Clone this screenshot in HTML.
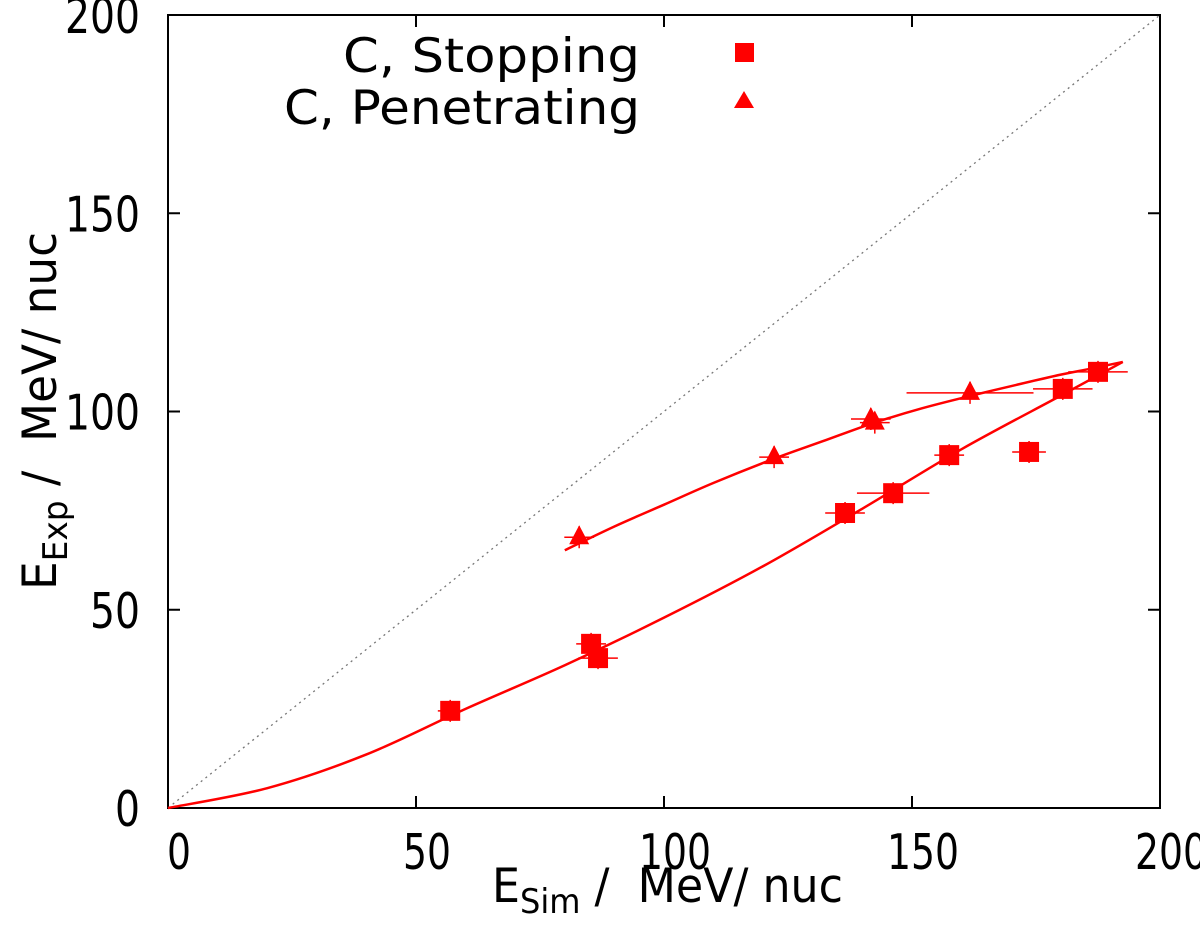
<!DOCTYPE html>
<html><head><meta charset="utf-8"><style>
html,body{margin:0;padding:0;background:#fff;}
svg{display:block;font-family:"DejaVu Sans","Liberation Sans",sans-serif;}
</style></head><body>
<svg id="chart" width="1200" height="945" viewBox="0 0 1200 945" xmlns="http://www.w3.org/2000/svg">
<g id="axes"></g>
<g id="marks"></g>
<g font-size="47" fill="#000">
<text x="343" y="72" textLength="297" lengthAdjust="spacingAndGlyphs">C, Stopping</text>
<rect x="735" y="43" width="19" height="19" fill="#f00"/>
<text x="284" y="124" textLength="356" lengthAdjust="spacingAndGlyphs">C, Penetrating</text>
<polygon points="744,91 754,108 734,108" fill="#f00"/>
</g>
<text x="492" y="902" font-size="47" textLength="351" lengthAdjust="spacingAndGlyphs">E<tspan font-size="34" dy="11">Sim</tspan><tspan dy="-11"> /&#160; MeV/&#160;nuc</tspan></text>
<text transform="translate(56,590) rotate(-90)" font-size="47" textLength="358" lengthAdjust="spacingAndGlyphs">E<tspan font-size="34" dy="11">Exp</tspan><tspan dy="-11"> /&#160; MeV/&#160;nuc</tspan></text>
</svg>
<script>
const xTicks=[0,50,100,150,200];
const yTicks=[0,50,100,150,200];
const stopX=[56.9,85.3,86.7,136.5,146.2,157.5,173.6,180.4,187.5];
const stopY=[24.5,41.4,37.8,74.4,79.4,89.0,89.8,105.7,110.0];
const stopXErr=[2.5,3,4,4,7.3,3,3.4,6,6];
const penX=[82.9,122.2,141.7,142.5,161.7];
const penY=[68.3,88.5,98.1,97.2,104.7];
const penXErr=[3,3,4,3,12.8];
const fitStopX=[0,20,40,60,80,100,120,140,160,180,192.5];
const fitStopY=[0,5,13.5,25,36,48,61,75.5,90.5,104,112.5];
const fitPenX=[80,90,100,110,122,132,142,152,162,172,180,186,192.5];
const fitPenY=[65,71,76.5,82,88,92.5,97,100.8,104,107,109.3,110.8,112.5];

const NS="http://www.w3.org/2000/svg";
const X0=168,X1=1160,Y0=808,Y1=15;
const sx=v=>X0+(v/200)*(X1-X0);
const sy=v=>Y0-(v/200)*(Y0-Y1);
function mk(tag,attrs,parent){const e=document.createElementNS(NS,tag);for(const k in attrs)e.setAttribute(k,attrs[k]);parent.appendChild(e);return e;}
const axes=document.getElementById('axes'),marks=document.getElementById('marks');

const frame=mk('rect',{x:X0,y:Y1,width:X1-X0,height:Y0-Y1,fill:'none',stroke:'#000','stroke-width':2},axes);


xTicks.forEach(t=>{
  const l=mk('path',{d:`M${sx(t)},${Y0}v-12M${sx(t)},${Y1}v12`,stroke:'#000','stroke-width':2},axes);
  
  
  const s=String(t);
  const w=24*s.length;
  const tx=mk('text',{x:sx(t)+11-w/2,y:Y0+61,'font-size':49,textLength:w,lengthAdjust:'spacingAndGlyphs'},axes);
  tx.textContent=s;
  
  
});
yTicks.forEach(t=>{
  const l=mk('path',{d:`M${X0},${sy(t)}h12M${X1},${sy(t)}h-12`,stroke:'#000','stroke-width':2},axes);
  
  
  const s=String(t);
  const w=25*s.length;
  const tx=mk('text',{x:140-w,y:sy(t)+18,'font-size':49,textLength:w,lengthAdjust:'spacingAndGlyphs'},axes);
  tx.textContent=s;
  
  
});
const diag=mk('line',{x1:sx(0),y1:sy(0),x2:sx(200),y2:sy(200),stroke:'#777','stroke-width':1.3,'stroke-dasharray':'2,4'},axes);



function curve(xs,ys,name){
  const P=xs.map((x,i)=>[sx(x),sy(ys[i])]);
  let d=`M${P[0][0]},${P[0][1]}`;
  for(let i=0;i<P.length-1;i++){
    const p0=P[Math.max(0,i-1)],p1=P[i],p2=P[i+1],p3=P[Math.min(P.length-1,i+2)];
    const c1=[p1[0]+(p2[0]-p0[0])/6,p1[1]+(p2[1]-p0[1])/6];
    const c2=[p2[0]-(p3[0]-p1[0])/6,p2[1]-(p3[1]-p1[1])/6];
    d+=`C${c1[0]},${c1[1]} ${c2[0]},${c2[1]} ${p2[0]},${p2[1]}`;
  }
  const p=mk('path',{d:d,fill:'none',stroke:'#f00','stroke-width':2.5},marks);
  
  
}
curve(fitStopX,fitStopY,'fit-stopping');
curve(fitPenX,fitPenY,'fit-penetrating');

function errbar(x,y,e){
  const b=mk('path',{d:`M${sx(x-e)},${sy(y)}H${sx(x+e)}M${sx(x)},${sy(y)-11}v22`,stroke:'#f00','stroke-width':1.5},marks);
  
  
}
stopX.forEach((x,i)=>{
  errbar(x,stopY[i],stopXErr[i]);
  const r=mk('rect',{x:sx(x)-10,y:sy(stopY[i])-10,width:20,height:20,fill:'#f00'},marks);
  
  
});
penX.forEach((x,i)=>{
  errbar(x,penY[i],penXErr[i]);
  const cx=sx(x),cy=sy(penY[i]);
  const t=mk('polygon',{points:`${cx},${cy-12} ${cx+10},${cy+7} ${cx-10},${cy+7}`,fill:'#f00'},marks);
  
  
});
</script>
</body></html>
